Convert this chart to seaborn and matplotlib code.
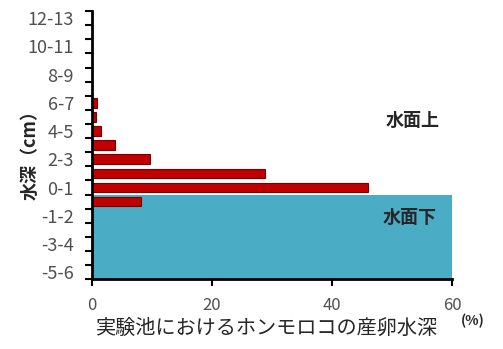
import numpy as np
import matplotlib
matplotlib.use('Agg')
import matplotlib.pyplot as plt
import seaborn as sns

# Depth classes (cm), top to bottom, and share of eggs (%)
depths = ['12-13', '11-12', '10-11', '9-10', '8-9', '7-8', '6-7', '5-6', '4-5',
          '3-4', '2-3', '1-2', '0-1', '-0-1', '-1-2', '-2-3', '-3-4', '-4-5', '-5-6']
share = [0, 0, 0, 0, 0, 0, 0.8, 0.6, 1.5, 3.8, 9.7, 28.8, 46.0, 8.2, 0, 0, 0, 0, 0]
shown_labels = ['12-13', '10-11', '8-9', '6-7', '4-5', '2-3', '0-1', '-1-2', '-3-4', '-5-6']
x_ticks = [0, 20, 40, 60]

sns.set_style('ticks')
plt.rcParams['font.family'] = ['Noto Sans CJK JP', 'DejaVu Sans']

fig = plt.figure(figsize=(5.03, 3.49), dpi=100)
ax = fig.add_axes([0.183, 0.2, 0.716, 0.768])

# underwater zone
n_above = depths.index('0-1') + 1
ax.axhspan(n_above - 0.5, len(depths) - 0.5, color='#4BACC6', zorder=0, lw=0)

sns.barplot(x=share, y=depths, orient='h', color='#C00000', edgecolor='#7a0000',
            linewidth=0.8, width=0.68, saturation=1, ax=ax, zorder=2)

ax.set_xlim(0, 60)
ax.set_ylim(len(depths) - 0.5, -0.5)
ax.set_xticks(x_ticks)
ax.set_xticklabels([str(v) for v in x_ticks], fontsize=12, color='#505050')

# Excel style: ticks on category boundaries, labels on every other category
ax.set_yticks(np.arange(-0.5, len(depths), 1))
ax.set_yticklabels([])
ax.set_yticks([depths.index(l) for l in shown_labels], minor=True)
ax.set_yticklabels(shown_labels, minor=True, fontsize=13, color='#505050')
ax.tick_params(axis='y', which='major', length=5, width=1.5, color='black', direction='out')
ax.tick_params(axis='y', which='minor', length=0, pad=13)
ax.tick_params(axis='x', length=5, width=1.5, color='black', direction='out', pad=8)

sns.despine(ax=ax)
for s in ['left', 'bottom']:
    ax.spines[s].set_linewidth(2)
    ax.spines[s].set_color('black')

ax.set_ylabel('')
ax.set_xlabel('')
fig.text(0.06, 0.57, '水深（cm）', rotation=90, fontsize=13, fontweight='bold',
         ha='center', va='center')
fig.text(0.53, 0.058, '実験池におけるホンモロコの産卵水深', fontsize=14.5,
         ha='center', va='center', color='#262626')
fig.text(0.94, 0.08, '(%)', fontsize=10, fontweight='bold', ha='center', va='center')
fig.text(0.82, 0.656, '水面上', fontsize=13, fontweight='bold', ha='center', va='center')
fig.text(0.815, 0.378, '水面下', fontsize=13, fontweight='bold', ha='center', va='center')

plt.savefig('out.png', dpi=100)
